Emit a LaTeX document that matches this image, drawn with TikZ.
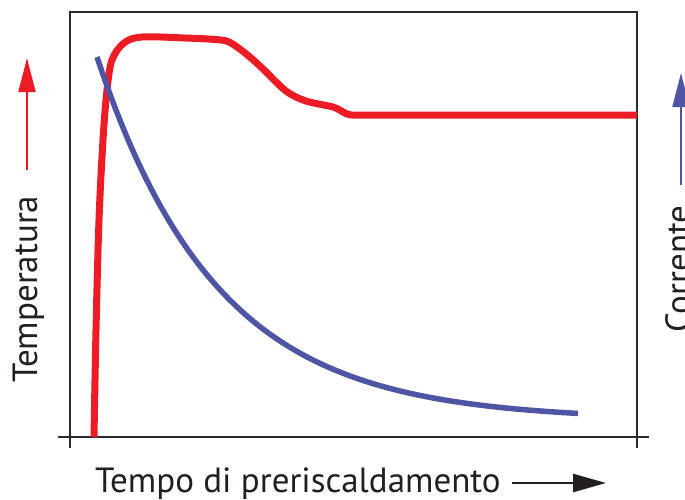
\documentclass[tikz,border=0pt]{standalone}
\usepackage{fontspec}
\setmainfont{PT Sans}
\usetikzlibrary{arrows.meta}
\definecolor{tred}{HTML}{ED1C24}
\definecolor{cblue}{HTML}{4F55A5}
\definecolor{framec}{HTML}{2A2A2A}
\definecolor{txt}{HTML}{231F20}
\tikzset{
  frameline/.style={draw=framec, line width=1.3pt},
  redcurve/.style={draw=tred, line width=7pt, line join=round},
  bluecurve/.style={draw=cblue, line width=5.5pt},
  lbl/.style={font=\fontsize{35}{40}\selectfont, inner sep=0pt, text=txt},
  axarrow/.style={line width=2pt, -{Triangle[length=34pt,width=17pt]}}
}
\begin{document}
\begin{tikzpicture}[x=1pt,y=-1pt]
\useasboundingbox (0,0) rectangle (685,499);
\clip (0,0) rectangle (685,499);
% frame
\draw[frameline] (637,448) -- (637,12) -- (70,12) -- (70,448);
\draw[frameline] (58,437) -- (649,437);
% red temperature curve
\draw[redcurve] plot[smooth, tension=0.55] coordinates {(94,437) (96,330) (99,220) (103,140) (107,90) (112,60) (124,43) (142,37) (185,38) (215,39.5) (229,42) (245,53) (262,68) (286,91) (306,101) (333,107) (343,112) (352,115) (380,115)} -- (637,115);
% blue current curve
\draw[bluecurve] plot[domain=97:578, samples=80, smooth] (\x, {420-363*exp(-(\x-97)/120)});
% labels
\node[lbl, rotate=90, anchor=base west] (temp) at (37,383) {Temperatura};
\node[lbl, rotate=90, anchor=base west] (corr) at (690,333) {Corrente};
\node[lbl, anchor=base west] (tempo) at (95,492) {Tempo di preriscaldamento};
% arrows
\coordinate (ta) at (27,170);
\coordinate (tb) at (27,58);
\draw[axarrow, tred] (ta) -- (tb);
\coordinate (ca) at (681,185);
\coordinate (cb) at (681,73);
\draw[axarrow, cblue] (ca) -- (cb);
\coordinate (xa) at (512,483);
\coordinate (xb) at (606,483);
\draw[axarrow, txt, line width=2.5pt, -{Triangle[length=33pt,width=18pt]}] (xa) -- (xb);
\end{tikzpicture}
\end{document}
